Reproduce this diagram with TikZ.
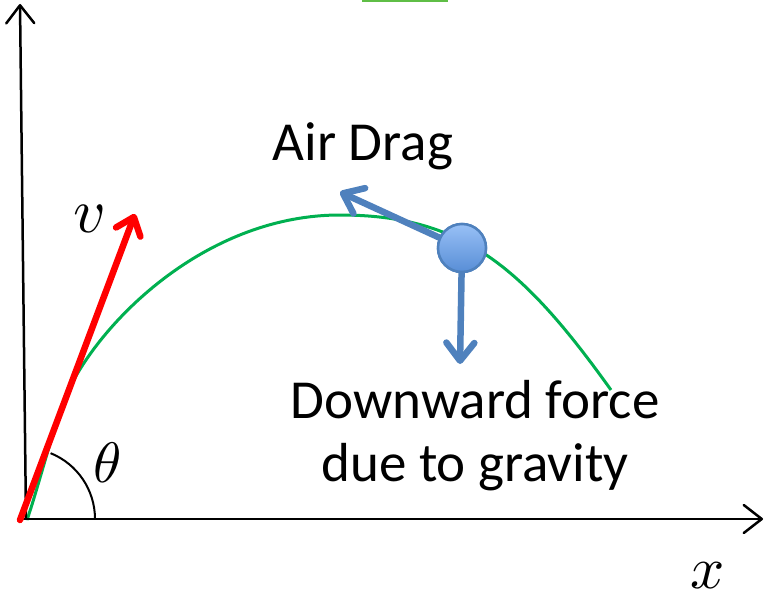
\documentclass[tikz,border=0pt]{standalone}
\usepackage{fontspec}
\usepackage{graphicx}
\newfontfamily\calib{Carlito}
\usetikzlibrary{arrows.meta}
\definecolor{curvegreen}{RGB}{0,176,80}
\definecolor{topgreen}{RGB}{95,190,70}
\definecolor{forceblue}{RGB}{79,129,189}
\definecolor{balltop}{RGB}{152,192,246}
\definecolor{ballbot}{RGB}{88,142,214}
\definecolor{vred}{RGB}{255,0,0}
\begin{document}
\begin{tikzpicture}[x=1pt,y=-1pt,
  axisline/.style={line width=2.5pt,line cap=round,-{Straight Barb[length=18pt,width=28pt,round]}},
  redvec/.style={draw=vred,line width=6.5pt,line cap=round,-{Straight Barb[length=16pt,width=26pt,round]}},
  forcevec/.style={draw=forceblue,line width=6.5pt,-{Straight Barb[length=18pt,width=28pt,round]}},
  ballstyle/.style={circle,minimum size=48pt,inner sep=0pt,draw=forceblue,line width=2.5pt,top color=balltop,bottom color=ballbot},
  labeltext/.style={font=\calib\fontsize{55}{63}\selectfont,inner sep=0pt},
  mathlabel/.style={inner sep=0pt}]
\useasboundingbox (0,0) rectangle (776,597);
% coordinates
\coordinate (O) at (24,519);
\coordinate (ybase) at (26,519);
\coordinate (ytip) at (20,4);
\coordinate (xbase) at (20,519);
\coordinate (xtip) at (763,519);
\coordinate (vstart) at (20,520);
\coordinate (vtip) at (135,214);
\coordinate (dragtip) at (340,192);
\coordinate (gravtip) at (460,364);
% trajectory
\draw[curvegreen,line width=3pt] (27,520)
   .. controls (40,482) and (56.6,414) .. (70,387)
   .. controls (106,315.5) and (210,215) .. (340,215)
   .. controls (460,215) and (521,264) .. (611,390);
% green fragment at the top edge
\draw[topgreen,line width=2.5pt] (362,1) -- (448,1);
% axes
\draw[axisline] (ybase) -- (ytip);
\draw[axisline] (xbase) -- (xtip);
% angle arc
\draw[line width=2pt] (O) ++(-68:71) arc[start angle=-68,end angle=0,radius=71];
% velocity vector
\draw[redvec] (vstart) -- (vtip);
% ball and forces
\node[ballstyle] (ball) at (462,248) {};
\draw[forcevec] (ball.center) -- (dragtip);
\draw[forcevec] (ball.center) -- (gravtip);
\node[ballstyle] (ballfront) at (ball.center) {};
% labels
\node[labeltext,anchor=base] (drag) at (363,160) {Air Drag};
\node[labeltext,anchor=base] (grav1) at (475,418) {Downward force};
\node[labeltext,anchor=base] (grav2) at (475,481) {due to gravity};
\node[mathlabel] (vlab) at (90,219) {\scalebox{6.3}{$v$}};
\node[mathlabel] (thlab) at (108,463) {\scalebox{5.7}{$\theta$}};
\node[mathlabel] (xlab) at (708,576) {\scalebox{6.0}{$x$}};
\end{tikzpicture}
\end{document}
